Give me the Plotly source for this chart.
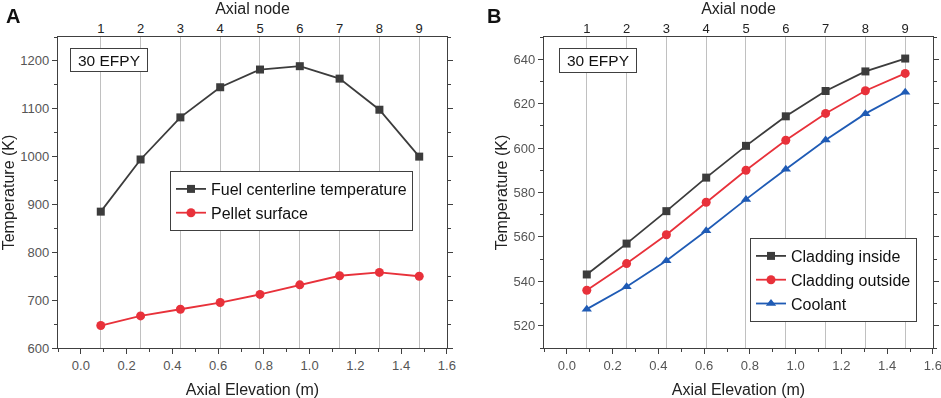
import plotly.graph_objects as go

# ---- data ----
nodes = ["1", "2", "3", "4", "5", "6", "7", "8", "9"]
elevation = [0.087, 0.261, 0.435, 0.609, 0.783, 0.957, 1.131, 1.305, 1.479]

fuel_centerline = [885, 994, 1082, 1145, 1182, 1189, 1163, 1098, 1000]
pellet_surface = [647, 667, 681, 695, 712, 732, 751, 758, 750]

cladding_inside = [543.1, 557.0, 571.6, 586.7, 601.0, 614.3, 625.7, 634.5, 640.3]
cladding_outside = [536.0, 548.0, 561.0, 575.6, 590.0, 603.5, 615.6, 625.8, 633.6]
coolant = [527.5, 537.6, 549.3, 562.8, 576.9, 590.5, 603.6, 615.5, 625.1]

W, H = 941, 398
FONT = "Liberation Sans, Arial, sans-serif"
BLACK = "#3c3c3c"
RED = "#e8313a"
BLUE = "#1f5bb5"
AXC = "#404040"
GRID = "#c0c0c0"
TICKC = "#555555"

def px_x(p):
    return p / W

def px_y(p):
    return 1 - p / H

fig = go.Figure()

# Panel A traces
fig.add_trace(go.Scatter(x=elevation, y=fuel_centerline, name="Fuel centerline temperature",
                         mode="lines+markers", line=dict(color=BLACK, width=1.8),
                         marker=dict(symbol="square", size=8, color=BLACK),
                         xaxis="x", yaxis="y", legend="legend"))
fig.add_trace(go.Scatter(x=elevation, y=pellet_surface, name="Pellet surface",
                         mode="lines+markers", line=dict(color=RED, width=1.8),
                         marker=dict(symbol="circle", size=9, color=RED),
                         xaxis="x", yaxis="y", legend="legend"))

# Panel B traces
fig.add_trace(go.Scatter(x=elevation, y=cladding_inside, name="Cladding inside",
                         mode="lines+markers", line=dict(color=BLACK, width=1.8),
                         marker=dict(symbol="square", size=8, color=BLACK),
                         xaxis="x2", yaxis="y2", legend="legend2"))
fig.add_trace(go.Scatter(x=elevation, y=cladding_outside, name="Cladding outside",
                         mode="lines+markers", line=dict(color=RED, width=1.8),
                         marker=dict(symbol="circle", size=9, color=RED),
                         xaxis="x2", yaxis="y2", legend="legend2"))
fig.add_trace(go.Scatter(x=elevation, y=coolant, name="Coolant",
                         mode="lines+markers", line=dict(color=BLUE, width=1.8),
                         marker=dict(symbol="triangle-up", size=9, color=BLUE),
                         xaxis="x2", yaxis="y2", legend="legend2"))

# invisible carriers so the top "Axial node" axes are drawn
fig.add_trace(go.Scatter(x=elevation, y=fuel_centerline, mode="markers", opacity=0,
                         showlegend=False, hoverinfo="skip", xaxis="x3", yaxis="y"))
fig.add_trace(go.Scatter(x=elevation, y=cladding_inside, mode="markers", opacity=0,
                         showlegend=False, hoverinfo="skip", xaxis="x4", yaxis="y2"))

domA = [px_x(58), px_x(447)]
domB = [px_x(544), px_x(933)]
domY = [px_y(348), px_y(37)]

tickfont = dict(family=FONT, size=13, color=TICKC)
titlefont = dict(family=FONT, size=16, color="#222222")
XRANGE = [-0.1, 1.6005]

def bottom_axis(dom):
    return dict(domain=dom, range=XRANGE, dtick=0.2, tick0=0, tickformat=".1f",
                automargin=False, ticklabeloverflow="allow",
                showgrid=False, zeroline=False, showline=True, linecolor=AXC, linewidth=1.3,
                mirror=True, ticks="outside", ticklen=5, tickwidth=1.2, tickcolor=AXC,
                minor=dict(dtick=0.1, tick0=0, ticks="outside", ticklen=3, tickcolor=AXC, tickwidth=1.1),
                tickfont=tickfont,
                title=dict(text="Axial Elevation (m)", font=titlefont, standoff=12))

def top_axis(over, anchor):
    return dict(overlaying=over, side="top", anchor=anchor, range=XRANGE,
                automargin=False, ticklabeloverflow="allow",
                tickmode="array", tickvals=elevation, ticktext=nodes,
                showgrid=True, gridcolor=GRID, gridwidth=1.3, zeroline=False,
                showline=False, ticks="", tickfont=dict(family=FONT, size=13, color="#222222"),
                title=dict(text="Axial node", font=titlefont, standoff=2))

def left_axis(rng, dtick, minor, anchor, standoff):
    return dict(domain=domY, range=rng, dtick=dtick, anchor=anchor,
                automargin=False, ticklabeloverflow="allow",
                showgrid=False, zeroline=False, showline=True, linecolor=AXC, linewidth=1.3,
                mirror="ticks", ticks="outside", ticklen=5, tickwidth=1.2, tickcolor=AXC,
                minor=dict(dtick=minor, ticks="outside", ticklen=3, tickcolor=AXC, tickwidth=1.1),
                tickfont=tickfont,
                title=dict(text="Temperature (K)", font=titlefont, standoff=standoff))

fig.update_layout(
    width=W, height=H,
    margin=dict(l=0, r=0, t=0, b=0, autoexpand=False),
    paper_bgcolor="white", plot_bgcolor="white",
    font=dict(family=FONT),
    xaxis=bottom_axis(domA) | dict(anchor="y"),
    xaxis2=bottom_axis(domB) | dict(anchor="y2"),
    xaxis3=top_axis("x", "y"),
    xaxis4=top_axis("x2", "y2"),
    yaxis=left_axis([600, 1250], 100, 50, "x", 4) | dict(tick0=600),
    yaxis2=left_axis([510, 650], 20, 10, "x2", 1) | dict(tick0=500),
    legend=dict(x=px_x(170), y=px_y(171), xanchor="left", yanchor="top",
                bordercolor=AXC, borderwidth=1, bgcolor="white",
                font=dict(family=FONT, size=16, color="#111111"),
                tracegroupgap=0, itemwidth=30),
    legend2=dict(x=px_x(750), y=px_y(238), xanchor="left", yanchor="top",
                 bordercolor=AXC, borderwidth=1, bgcolor="white",
                 font=dict(family=FONT, size=16, color="#111111"),
                 tracegroupgap=0, itemwidth=30),
    showlegend=True,
)

annos = [
    dict(text="<b>A</b>", x=px_x(4), y=px_y(3), xanchor="left", yanchor="top",
         font=dict(family=FONT, size=20, color="#111111")),
    dict(text="<b>B</b>", x=px_x(485), y=px_y(3), xanchor="left", yanchor="top",
         font=dict(family=FONT, size=20, color="#111111")),
    dict(text="30 EFPY", x=px_x(70), y=px_y(48), xanchor="left", yanchor="top",
         width=72, height=18, borderpad=2, bordercolor=AXC, borderwidth=1, bgcolor="white",
         font=dict(family=FONT, size=15.5, color="#111111")),
    dict(text="30 EFPY", x=px_x(559), y=px_y(48), xanchor="left", yanchor="top",
         width=72, height=19, borderpad=2, bordercolor=AXC, borderwidth=1, bgcolor="white",
         font=dict(family=FONT, size=15.5, color="#111111")),
]
for a in annos:
    fig.add_annotation(xref="paper", yref="paper", showarrow=False, **a)

fig.write_html("out.html", config={"displayModeBar": False},
               post_script="document.body.style.margin='0';document.body.style.padding='0';")
